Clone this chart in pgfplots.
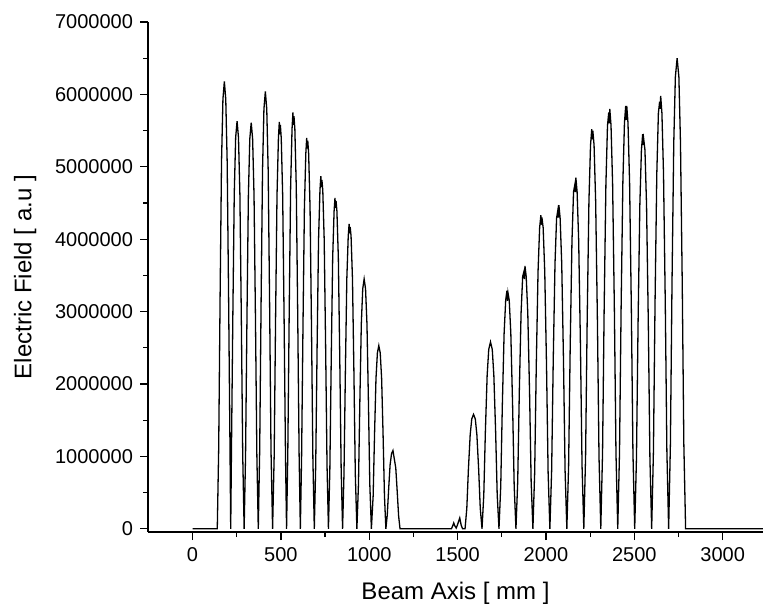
\documentclass[border=0pt]{standalone}
\usepackage{fontspec}
\setmainfont{Liberation Sans}
\usepackage{pgfplots}
\pgfplotsset{compat=1.18}
\begin{document}
\begin{tikzpicture}
\useasboundingbox (-74pt,-37.5pt) rectangle (307.5pt,266pt);
\begin{axis}[
  at={(0,0)}, anchor=south west,
  scale only axis, width=307.5pt, height=255pt,
  xmin=-252, xmax=3228, ymin=-45000, ymax=7000000,
  axis x line=bottom, axis y line=left,
  axis line style={-, line width=0.75pt},
  tick align=outside, major tick length=4pt, minor tick length=2.5pt,
  tick style={black, line width=0.6pt},
  xtick={0,500,1000,1500,2000,2500,3000},
  ytick={0,1000000,2000000,3000000,4000000,5000000,6000000,7000000},
  minor x tick num=1, minor y tick num=1,
  scaled y ticks=false, scaled x ticks=false,
  xticklabel style={/pgf/number format/fixed, /pgf/number format/set thousands separator={}},
  yticklabel style={/pgf/number format/fixed, /pgf/number format/set thousands separator={}},
  /pgf/number format/assume math mode=true,
  /pgf/number format/set thousands separator={},
  ticklabel style={font=\fontsize{10}{12}\selectfont},
  xlabel={Beam Axis [ mm ]}, ylabel={Electric Field [ a.u ]},
  label style={font=\fontsize{12}{14}\selectfont},
  xlabel style={yshift=-3.5pt},
  ylabel style={yshift=2.5pt},
]
\addplot[black, line width=0.65pt] coordinates {
(0,0) (140,0)
(148,1.112e6) (156,3.214e6) (164,5.068e6) (172,5.933e6) (180,6.18e6) (188,5.933e6) (196,5.068e6) (204,3.214e6) (212,1.112e6) (216,0)
(220,1.013e6) (228,2.928e6) (236,4.617e6) (244,5.405e6) (252,5.63e6) (260,5.405e6) (268,4.617e6) (276,2.928e6) (284,1.013e6) (292,0)
(300,1.010e6) (308,2.917e6) (316,4.600e6) (324,5.386e6) (332,5.61e6) (340,5.386e6) (348,4.600e6) (356,2.917e6) (364,1.010e6) (372,0)
(380,1.087e6) (388,3.141e6) (396,4.953e6) (404,5.798e6) (412,6.04e6) (420,5.798e6) (428,4.953e6) (436,3.141e6) (444,1.087e6) (453,0)
(462,1.012e6) (470,2.922e6) (478,4.608e6) (486,5.395e6) (491,5.62e6) (494,5.45e6) (497,5.58e6) (502,5.395e6) (510,4.608e6) (518,2.922e6) (526,1.012e6) (532,0)
(539,1.035e6) (547,2.99e6) (555,4.715e6) (563,5.52e6) (568,5.75e6) (571,5.58e6) (574,5.7e6) (579,5.52e6) (587,4.715e6) (595,2.99e6) (603,1.035e6) (610,0)
(617,0.972e6) (625,2.808e6) (633,4.428e6) (641,5.184e6) (646,5.40e6) (649,5.25e6) (652,5.36e6) (657,5.184e6) (665,4.428e6) (673,2.808e6) (681,0.972e6) (689,0)
(697,0.877e6) (705,2.532e6) (713,3.993e6) (721,4.675e6) (726,4.87e6) (729,4.72e6) (732,4.82e6) (737,4.675e6) (745,3.993e6) (753,2.532e6) (761,0.877e6) (769,0)
(777,0.823e6) (785,2.376e6) (793,3.747e6) (801,4.387e6) (806,4.57e6) (809,4.43e6) (812,4.53e6) (817,4.387e6) (825,3.747e6) (833,2.376e6) (841,0.823e6) (849,0)
(857,0.758e6) (865,2.189e6) (873,3.452e6) (881,4.042e6) (886,4.21e6) (889,4.08e6) (892,4.17e6) (897,4.042e6) (905,3.452e6) (913,2.189e6) (921,0.758e6) (930,0)
(939,0.621e6) (947,1.794e6) (955,2.829e6) (963,3.312e6) (971,3.45e6) (979,3.312e6) (987,2.829e6) (995,1.794e6) (1003,0.621e6) (1012,0)
(1022,0.455e6) (1030,1.316e6) (1038,2.075e6) (1046,2.429e6) (1054,2.53e6) (1062,2.429e6) (1070,2.075e6) (1078,1.316e6) (1086,0.455e6) (1094,0)
(1102,0.194e6) (1110,0.562e6) (1118,0.886e6) (1126,1.037e6) (1134,1.08e6) (1142,0.96e6) (1150,0.84e6) (1158,0.52e6) (1166,0.18e6) (1174,0)
(1465,0) (1472,0.04e6) (1478,0.08e6) (1484,0.04e6) (1492,0.01e6) (1500,0.06e6) (1512,0.15e6) (1520,0.05e6) (1528,0)
(1542,0) (1552,0.284e6) (1561,0.822e6) (1571,1.296e6) (1580,1.517e6) (1590,1.58e6) (1600,1.517e6) (1609,1.296e6) (1619,0.822e6) (1628,0.284e6) (1638,0)
(1648,0.464e6) (1657,1.342e6) (1667,2.116e6) (1676,2.477e6) (1686,2.58e6) (1696,2.477e6) (1705,2.116e6) (1715,1.342e6) (1724,0.464e6) (1734,0)
(1744,0.592e6) (1753,1.711e6) (1763,2.698e6) (1772,3.158e6) (1779,3.29e6) (1782,3.15e6) (1785,3.26e6) (1792,3.158e6) (1801,2.698e6) (1811,1.711e6) (1820,0.592e6) (1830,0)
(1840,0.653e6) (1849,1.888e6) (1859,2.977e6) (1868,3.485e6) (1875,3.55e6) (1878,3.45e6) (1881,3.63e6) (1888,3.485e6) (1897,2.977e6) (1907,1.888e6) (1916,0.653e6) (1926,0)
(1936,0.779e6) (1945,2.252e6) (1955,3.551e6) (1964,4.157e6) (1971,4.33e6) (1974,4.2e6) (1977,4.3e6) (1984,4.157e6) (1993,3.551e6) (2003,2.252e6) (2012,0.779e6) (2022,0)
(2032,0.805e6) (2041,2.324e6) (2051,3.665e6) (2060,4.291e6) (2067,4.40e6) (2070,4.3e6) (2073,4.47e6) (2080,4.291e6) (2089,3.665e6) (2099,2.324e6) (2108,0.805e6) (2118,0)
(2128,0.873e6) (2137,2.522e6) (2147,3.977e6) (2156,4.656e6) (2163,4.75e6) (2166,4.65e6) (2169,4.85e6) (2176,4.656e6) (2185,3.977e6) (2195,2.522e6) (2204,0.873e6) (2214,0)
(2224,0.994e6) (2233,2.870e6) (2243,4.526e6) (2252,5.299e6) (2259,5.52e6) (2262,5.38e6) (2265,5.5e6) (2272,5.299e6) (2281,4.526e6) (2291,2.870e6) (2300,0.994e6) (2310,0)
(2320,1.044e6) (2329,3.016e6) (2339,4.756e6) (2348,5.568e6) (2355,5.75e6) (2358,5.6e6) (2361,5.8e6) (2368,5.568e6) (2377,4.756e6) (2387,3.016e6) (2396,1.044e6) (2406,0)
(2416,1.051e6) (2425,3.037e6) (2435,4.789e6) (2444,5.606e6) (2451,5.84e6) (2454,5.65e6) (2457,5.84e6) (2464,5.606e6) (2473,4.789e6) (2483,3.037e6) (2492,1.051e6) (2502,0)
(2512,0.981e6) (2521,2.834e6) (2531,4.469e6) (2540,5.232e6) (2547,5.45e6) (2550,5.3e6) (2553,5.38e6) (2560,5.232e6) (2569,4.469e6) (2579,2.834e6) (2588,0.981e6) (2598,0)
(2608,1.076e6) (2617,3.110e6) (2627,4.904e6) (2636,5.741e6) (2643,5.9e6) (2646,5.8e6) (2649,5.98e6) (2656,5.741e6) (2665,4.904e6) (2675,3.110e6) (2684,1.076e6) (2694,0)
(2704,1.17e6) (2713,3.38e6) (2723,5.33e6) (2732,6.24e6) (2742,6.5e6) (2752,6.24e6) (2761,5.33e6) (2771,3.38e6) (2780,1.17e6) (2790,0) (3228,0)
};
\end{axis}
\end{tikzpicture}
\end{document}
